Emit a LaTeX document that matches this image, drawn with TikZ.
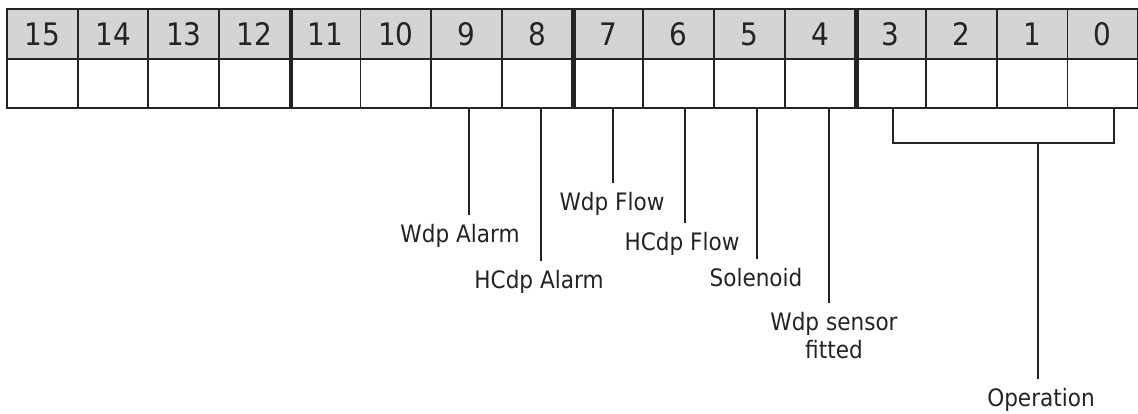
\documentclass[tikz,border=0pt]{standalone}
\usepackage{fontspec}
\setmainfont{DejaVu Sans Condensed}
\usetikzlibrary{positioning}
\definecolor{hdrgray}{RGB}{211,212,214}
\definecolor{inkgray}{RGB}{35,35,35}

\begin{document}
\begin{tikzpicture}[
	x=1pt, y=-1pt,
	hdr/.style={draw=inkgray, line width=1.9pt, fill=hdrgray, minimum width=70.7pt, minimum height=50pt, inner sep=0pt, text=inkgray, font=\fontsize{31}{33}\selectfont},
	cell/.style={draw=inkgray, line width=1.9pt, fill=white, minimum width=70.7pt, minimum height=49pt, inner sep=0pt},
	lbl/.style={anchor=north, align=center, text=inkgray, inner xsep=0pt, inner ysep=9pt, font=\fontsize{24}{28}\selectfont},
	lead/.style={draw=inkgray, line width=1.9pt},
	group/.style={draw=inkgray, line width=4.5pt}
	]

	\useasboundingbox (0,0) rectangle (1138,414);

	% register: bit numbers on top, empty row below
	\foreach \b in {15,...,0} {
		\node[hdr] (h\b) at ({7+(15.5-\b)*70.7}, 34) {\b};
		\node[cell] (c\b) at ({7+(15.5-\b)*70.7}, 83.5) {};
	}
	\foreach \b in {12,8,4}
		\draw[group] (h\b.north east) -- (c\b.south east);

	% flag labels
	\node[lbl] (wdpalarm) at (460,215) {Wdp Alarm};
	\node[lbl] (hcdpalarm) at (539,261) {HCdp Alarm};
	\node[lbl] (wdpflow) at (612,183) {Wdp Flow};
	\node[lbl] (hcdpflow) at (682,223) {HCdp Flow};
	\node[lbl] (solenoid) at (756,259) {Solenoid};
	\node[lbl] (sensor) at (834,303) {Wdp sensor\\fitted};
	\node[lbl] (operation) at (1041,379) {Operation};

	\draw[lead] ([xshift=2pt]c9.south) -- ([xshift=2pt]c9.south |- wdpalarm.north);
	\draw[lead] ([xshift=4pt]c8.south) -- ([xshift=4pt]c8.south |- hcdpalarm.north);
	\draw[lead] ([xshift=5pt]c7.south) -- ([xshift=5pt]c7.south |- wdpflow.north);
	\draw[lead] ([xshift=6pt]c6.south) -- ([xshift=6pt]c6.south |- hcdpflow.north);
	\draw[lead] ([xshift=8pt]c5.south) -- ([xshift=8pt]c5.south |- solenoid.north);
	\draw[lead] ([xshift=9pt]c4.south) -- ([xshift=9pt]c4.south |- sensor.north);

	% bracket over bits 3..0
	\coordinate (opjoin) at (1038,143);
	\draw[lead] ([xshift=2pt]c3.south) |- ([xshift=11pt]c0.south |- opjoin) -- ([xshift=11pt]c0.south);
	\draw[lead] (opjoin) -- (opjoin |- operation.north);

\end{tikzpicture}
\end{document}
